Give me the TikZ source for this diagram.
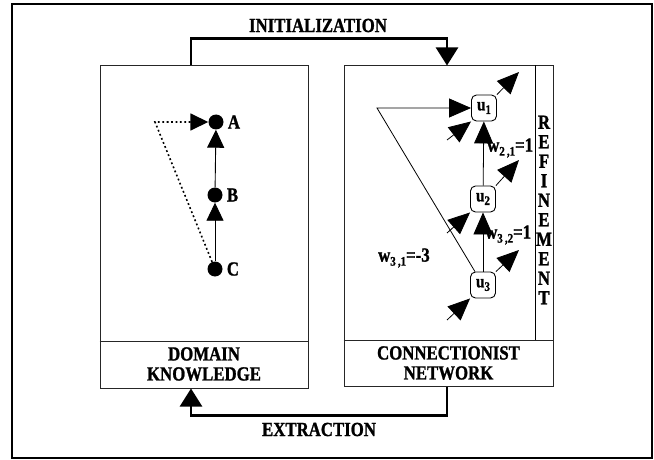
\documentclass[tikz,border=0pt]{standalone}
\usepackage{fontspec}
\setmainfont[FakeStretch=0.84, BoldFeatures={FakeBold=1.2}]{Liberation Serif}
\usetikzlibrary{arrows.meta, positioning}

\newcommand{\lowidx}[1]{\raisebox{-0.2em}{\fontsize{13}{13}\selectfont #1}}

\tikzset{
    panel/.style={draw=black!85, line width=1pt, minimum width=208pt, minimum height=322pt, inner sep=0pt},
    flow/.style={line width=2.5pt, -{Triangle[length=18pt, width=22pt]}},
    unit/.style={draw, line width=0.9pt, rounded corners=5pt, minimum width=25pt, minimum height=26pt, inner sep=0pt, font=\bfseries\fontsize{18}{18}\selectfont},
    link/.style={line width=0.8pt, -{Triangle[length=22pt, width=19pt]}},
    rule/.style={line width=0.9pt, -{Triangle[length=18pt, width=17pt]}},
    dot/.style={circle, fill, minimum size=15pt, inner sep=0pt},
    caption/.style={font=\bfseries\fontsize{20}{20}\selectfont, align=center}
}

\begin{document}
\begin{tikzpicture}[x=1pt, y=-1pt]
        \useasboundingbox (0, 0) rectangle (654, 460);
        \draw[line width=2.2pt] (12, 4) rectangle (652, 458);

        \node (knowledge) at (204, 227) [panel] {};
        \node (network) at (448.5, 226) [panel, minimum width=209pt, minimum height=320pt] {};
        \draw[draw=black!85, line width=1pt] (knowledge.west |- 0, 341) -- (knowledge.east |- 0, 341);
        \draw[draw=black!85, line width=1pt] (network.west |- 0, 340) -- (network.east |- 0, 340);
        \draw[line width=1pt] (535, 0 |- network.north) -- (535, 340);
        \node (knowledge_label) at (204, 364) [caption] {DOMAIN\\KNOWLEDGE};
        \node (network_label) at (448.5, 363) [caption] {CONNECTIONIST\\NETWORK};
        \node (refinement) at (544, 210) [caption, font=\bfseries\fontsize{20}{19.5}\selectfont, inner sep=0pt] {R\\E\\F\\I\\N\\E\\M\\E\\N\\T};

        % transfer between the two panels
        \draw[flow] ([xshift=-13pt]knowledge.north) -- ++(0, -27) -| ([xshift=-1.5pt]network.north);
        \path ([xshift=-13pt]knowledge.north) + (127, -40) node (initialization) [caption] {INITIALIZATION};
        \draw[flow] ([xshift=-1.5pt]network.south) -- ++(0, 29) -| ([xshift=-13pt]knowledge.south);
        \path ([xshift=-13pt]knowledge.south) + (128, 41) node (extraction) [caption] {EXTRACTION};

        % rules A, B, C
        \node (A) at (216, 122) [dot] {};
        \node (B) at (215, 195) [dot] {};
        \node (C) at (215, 269) [dot] {};
        \node[right=4pt of A, caption, inner sep=0pt] {A};
        \node[right=4pt of B, caption, inner sep=0pt] {B};
        \node[right=4pt of C, caption, inner sep=0pt] {C};
        \coordinate (negation) at (155, 122);
        \draw[rule] (C) -- (B);
        \draw[rule] (B) -- (A);
        \draw[rule, line width=1.6pt, dash pattern=on 1.8pt off 2.6pt] (C) -- (negation) -- (A);

        % units
        \node (u1) at (484, 108) [unit] {u\lowidx{1}};
        \node (u2) at (483, 199) [unit] {u\lowidx{2}};
        \node (u3) at (483, 285) [unit] {u\lowidx{3}};
        \draw[link] (u3) -- (u2);
        \draw[link] (u2) -- (u1);
        \coordinate (bend) at (377, 108);
        \draw[link] (u3) -- (bend) -- (u1);
        \foreach \u/\yin/\yout in {u1/140/72, u2/233/160, u3/320/250} {
            \coordinate (\u_in) at (447, \yin);
            \coordinate (\u_out) at (519, \yout);
            \draw[link] (\u_in) -- (\u.south west);
            \draw[link] (\u.north east) -- (\u_out);
        }
        \node (w21) at (487, 148) [anchor=west, caption, inner sep=0pt] {w\lowidx{2\,,1}=1};
        \node (w32) at (485, 235) [anchor=west, caption, inner sep=0pt] {w\lowidx{3\,,2}=1};
        \node (w31) at (378, 258) [anchor=west, caption, inner sep=0pt] {w\lowidx{3\,,1}=-3};
    \end{tikzpicture}
\end{document}
